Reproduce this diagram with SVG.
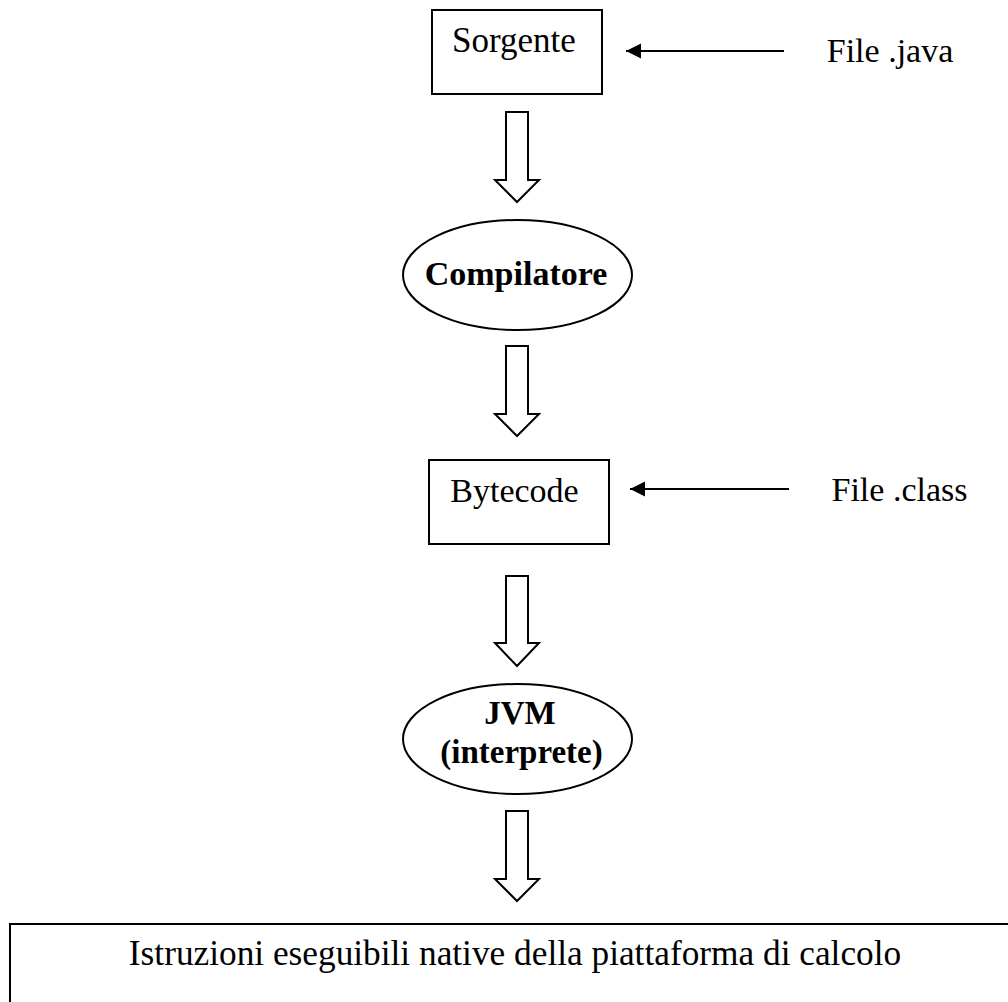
<svg xmlns="http://www.w3.org/2000/svg" width="1008" height="1002" viewBox="0 0 1008 1002">
  <style>
    .box { fill: #ffffff; stroke: #000000; stroke-width: 2; }
    .ell { fill: #ffffff; stroke: #000000; stroke-width: 2; }
    .txt { font-family: "Liberation Serif", "Times New Roman", serif; font-size: 34px; fill: #000000; }
    .bold { font-weight: bold; }
    .blk { fill: #ffffff; stroke: #000000; stroke-width: 2; stroke-linejoin: miter; }
    .thin { stroke: #000000; stroke-width: 2; fill: none; }
  </style>
  <defs>
    <marker id="tip" markerUnits="userSpaceOnUse" markerWidth="16" markerHeight="16" refX="15" refY="7.5" orient="auto">
      <path d="M0,0 L15,7.5 L0,15 Z" fill="#000000"/>
    </marker>
  </defs>
  <rect width="1008" height="1002" fill="#ffffff"/>

  <g id="connectors">
    <line class="thin" x1="784" y1="51" x2="626" y2="51" marker-end="url(#tip)"/>
    <line class="thin" x1="789" y1="489" x2="630" y2="489" marker-end="url(#tip)"/>
    <path class="blk" d="M506,112 H528 V180 H539 L517,202 L495,180 H506 Z"/>
    <path class="blk" d="M506,346 H528 V414 H539 L517,436 L495,414 H506 Z"/>
    <path class="blk" d="M506,576 H528 V643 H539 L517,666 L495,643 H506 Z"/>
    <path class="blk" d="M506,811 H528 V879 H539 L517,901 L495,879 H506 Z"/>
  </g>

  <g id="sorgente">
    <rect class="box" x="432" y="10" width="170" height="84"/>
    <text class="txt" x="514" y="52" text-anchor="middle" style="font-size:35px">Sorgente</text>
  </g>
  <g id="file-java">
    <text class="txt" x="890" y="62" text-anchor="middle">File .java</text>
  </g>
  <g id="compilatore">
    <ellipse class="ell" cx="517.5" cy="275" rx="114.5" ry="55"/>
    <text class="txt bold" x="516" y="285" text-anchor="middle">Compilatore</text>
  </g>
  <g id="bytecode">
    <rect class="box" x="429" y="460" width="180" height="84"/>
    <text class="txt" x="514.5" y="502" text-anchor="middle">Bytecode</text>
  </g>
  <g id="file-class">
    <text class="txt" x="899.5" y="501" text-anchor="middle">File .class</text>
  </g>
  <g id="jvm">
    <ellipse class="ell" cx="517.5" cy="739" rx="114.5" ry="55"/>
    <text class="txt bold" x="520" y="724" text-anchor="middle" style="font-size:33px">JVM</text>
    <text class="txt bold" x="521.5" y="763" text-anchor="middle" style="font-size:33px">(interprete)</text>
  </g>
  <g id="istruzioni">
    <rect class="box" x="10" y="924" width="1010" height="100"/>
    <text class="txt" x="515" y="965" text-anchor="middle" style="font-size:35.3px">Istruzioni eseguibili native della piattaforma di calcolo</text>
  </g>
</svg>
